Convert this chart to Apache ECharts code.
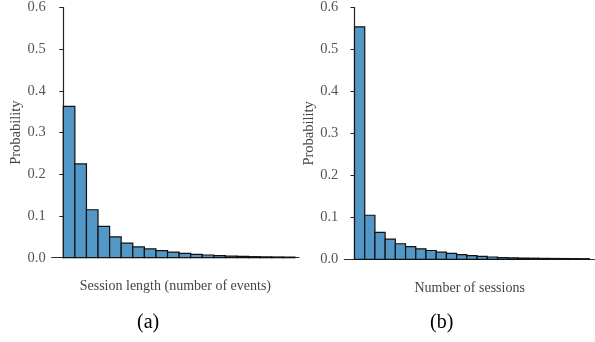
<!DOCTYPE html>
<html>
<head>
<meta charset="utf-8">
<script src="https://cdn.jsdelivr.net/npm/echarts@6/dist/echarts.min.js"></script>
<style>
  html, body { margin: 0; padding: 0; background: #fff; }
  #chart { width: 595px; height: 342px; }
</style>
</head>
<body>
<div id="chart"></div>
<script>
// probability per bin
const sessionLengthProb = [0.363, 0.225, 0.115, 0.075, 0.050, 0.035, 0.026, 0.021, 0.017, 0.0135,
  0.0105, 0.008, 0.0065, 0.0052, 0.0038, 0.003, 0.0025, 0.002, 0.0017, 0.0014];
const sessionCountProb = [0.554, 0.105, 0.064, 0.048, 0.037, 0.030, 0.025, 0.021, 0.017, 0.014,
  0.011, 0.0088, 0.0068, 0.0055, 0.0042, 0.0035, 0.003, 0.0026, 0.0022, 0.002, 0.0018, 0.0016, 0.0014];
const yTicks = [0, 0.1, 0.2, 0.3, 0.4, 0.5, 0.6];
const xNames = ['Session length (number of events)', 'Number of sessions'];
const panelLabels = ['(a)', '(b)'];

const font = 'Liberation Serif';
const barFill = '#5297c6';

// each bin covers [i, i+1] on the x axis
const toBins = (arr) => arr.map((v, i) => [i, i + 1, v]);

const renderBin = (params, api) => {
    const topLeft = api.coord([api.value(0), api.value(2)]);
    const bottomRight = api.coord([api.value(1), 0]);
    return {
        type: 'rect',
        shape: {
            x: topLeft[0],
            y: topLeft[1],
            width: bottomRight[0] - topLeft[0],
            height: bottomRight[1] - topLeft[1]
        },
        style: { fill: barFill, stroke: '#111', lineWidth: 1.2 }
    };
};

const yAxisFor = (gridIndex, gap) => ({
    gridIndex: gridIndex,
    type: 'value',
    min: yTicks[0],
    max: yTicks[yTicks.length - 1],
    interval: 0.1,
    name: 'Probability',
    nameLocation: 'middle',
    nameGap: gap,
    nameTextStyle: { fontFamily: font, fontSize: 14.5, color: '#444' },
    splitLine: { show: false },
    axisLine: { show: true, lineStyle: { color: '#222', width: 1.2 } },
    axisTick: { show: true, length: 4, lineStyle: { color: '#222' } },
    axisLabel: {
        margin: 6,
        fontFamily: font,
        fontSize: 14.5,
        color: '#555',
        formatter: (v) => v.toFixed(1)
    }
});

const xAxisFor = (gridIndex, max, name) => ({
    gridIndex: gridIndex,
    type: 'value',
    min: -1,
    max: max,
    name: name,
    nameLocation: 'middle',
    nameGap: 22,
    nameTextStyle: { fontFamily: font, fontSize: 14, color: '#444' },
    splitLine: { show: false },
    axisLine: { show: true, onZero: false, lineStyle: { color: '#333', width: 1.2 } },
    axisTick: { show: false },
    axisLabel: { show: false }
});

const option = {
    animation: false,
    backgroundColor: '#fff',
    grid: [
        { left: 51.7, right: 296, top: 6.7, bottom: 84.3 },
        { left: 344.3, right: 0, top: 6.7, bottom: 82.7 }
    ],
    xAxis: [
        xAxisFor(0, 20.35, xNames[0]),
        xAxisFor(1, 23.55, xNames[1])
    ],
    yAxis: [
        yAxisFor(0, 26),
        yAxisFor(1, 24)
    ],
    series: [
        {
            type: 'custom',
            xAxisIndex: 0,
            yAxisIndex: 0,
            renderItem: renderBin,
            encode: { x: [0, 1], y: 2 },
            data: toBins(sessionLengthProb)
        },
        {
            type: 'custom',
            xAxisIndex: 1,
            yAxisIndex: 1,
            renderItem: renderBin,
            encode: { x: [0, 1], y: 2 },
            data: toBins(sessionCountProb)
        }
    ],
    graphic: [
        {
            type: 'text', left: 137, top: 313,
            style: { text: panelLabels[0], font: '20px ' + font, fill: '#000' }
        },
        {
            type: 'text', left: 430, top: 313,
            style: { text: panelLabels[1], font: '20px ' + font, fill: '#000' }
        }
    ]
};

const myChart = echarts.init(document.getElementById('chart'));
myChart.setOption(option);
</script>
</body>
</html>
